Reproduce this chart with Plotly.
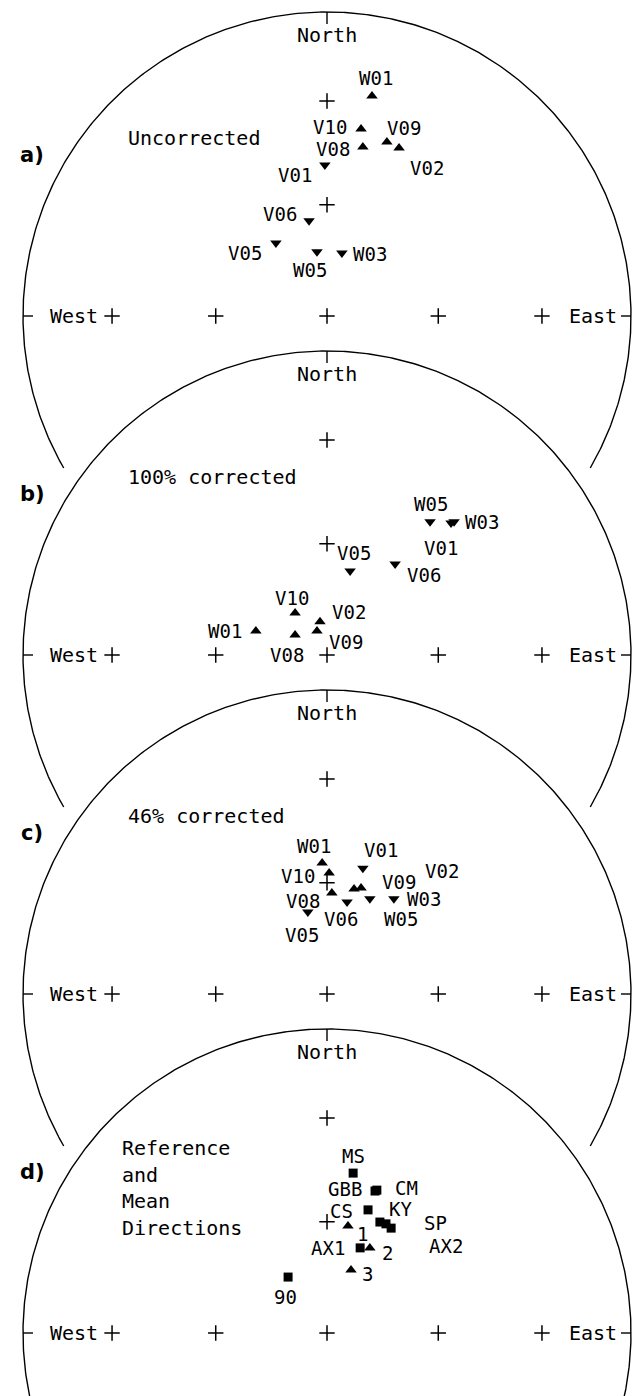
import numpy as np
import plotly.graph_objects as go

# ---------------- data (positions in stereonet units, R = 1; x = east, y = north) -------------
# a) Uncorrected
A_NAMES = ["W01", "V10", "V09", "V02", "V08", "V01", "V06", "V05", "W05", "W03"]
A_EAST = [0.148, 0.112, 0.197, 0.237, 0.118, -0.007, -0.059, -0.168, -0.033, 0.049]
A_NORTH = [0.724, 0.615, 0.572, 0.553, 0.556, 0.497, 0.313, 0.240, 0.211, 0.207]
A_SYMBOL = ["up", "up", "up", "up", "up", "down", "down", "down", "down", "down"]

# b) 100% corrected
B_NAMES = ["W05", "W03", "V01", "V05", "V06", "V10", "V02", "V09", "W01", "V08"]
B_EAST = [0.339, 0.418, 0.408, 0.076, 0.224, -0.105, -0.023, -0.033, -0.234, -0.105]
B_NORTH = [0.438, 0.438, 0.434, 0.276, 0.299, 0.138, 0.109, 0.079, 0.079, 0.066]
B_SYMBOL = ["down", "down", "down", "down", "down", "up", "up", "up", "up", "up"]

# c) 46% corrected
C_NAMES = ["W01", "V10", "V08", "V05", "V06", "V09", "V02", "V01", "W05", "W03"]
C_EAST = [-0.016, 0.007, 0.016, -0.063, 0.066, 0.089, 0.112, 0.118, 0.141, 0.220]
C_NORTH = [0.431, 0.398, 0.332, 0.270, 0.303, 0.345, 0.349, 0.414, 0.313, 0.313]
C_SYMBOL = ["up", "up", "up", "down", "down", "up", "up", "down", "down", "down"]

# d) Reference and mean directions
D_NAMES = ["MS", "GBB", "CM", "CS", "KY", "SP", "AX2", "AX1", "90", "1", "2", "3"]
D_EAST = [0.086, 0.158, 0.164, 0.135, 0.174, 0.194, 0.211, 0.109, -0.128, 0.069, 0.141, 0.079]
D_NORTH = [0.526, 0.467, 0.470, 0.405, 0.365, 0.359, 0.345, 0.280, 0.184, 0.352, 0.280, 0.207]
D_SYMBOL = ["square"] * 9 + ["up"] * 3

PANEL_LETTERS = ["a)", "b)", "c)", "d)"]
PANEL_CAPTIONS = [["Uncorrected"], ["100% corrected"], ["46% corrected"],
                  ["Reference", "and", "Mean", "Directions"]]
GRID_INCLINATIONS = [60, 30]  # grid crosses (equal-area net)

# ---------------- label placement (pixel offsets of label centre from marker) -------------
A_LBL = [(4, -18), (-31, -2), (17, -14), (28, 20), (-30, 2), (-30, 10), (-29, -7), (-31, 10), (-7, 18), (28, 1)]
B_LBL = [(1, -18), (28, 0), (-10, 25), (4, -18), (29, 11), (-3, -15), (29, -10), (29, 11), (-31, 0), (-8, 20)]
C_LBL = [(-8, -17), (-31, 3), (-29, 8), (-6, 23), (-6, 17), (45, -7), (81, -17), (18, -18), (31, 20), (30, 0)]
D_LBL = [(0, -17), (-30, -2), (30, -2), (-27, 1), (21, -13), (50, -1), (55, 18), (-32, 0), (-3, 20), (15, 8), (18, 5), (16, 4)]

PANELS = [
    (A_NAMES, A_EAST, A_NORTH, A_SYMBOL, A_LBL),
    (B_NAMES, B_EAST, B_NORTH, B_SYMBOL, B_LBL),
    (C_NAMES, C_EAST, C_NORTH, C_SYMBOL, C_LBL),
    (D_NAMES, D_EAST, D_NORTH, D_SYMBOL, D_LBL),
]

# ---------------- layout geometry -------------
W, H = 640, 1396
R_PX = 304.0
CX_PX = 327.0
CY0_PX = 316.0
STEP_PX = 339.0
MONO = "DejaVu Sans Mono"
FS = 20
FS_PT = 19
SYM = {"up": "triangle-up", "down": "triangle-down", "square": "square"}
SYM_SIZE = {"up": 10, "down": 10, "square": 9}

fig = go.Figure()
annotations = []
shapes = []

theta = np.radians(np.linspace(-30, 210, 481))
grid_r = [np.sqrt(2) * np.sin(np.radians((90 - i) / 2)) for i in GRID_INCLINATIONS]

for k, (names, east, north, symbols, lbl) in enumerate(PANELS):
    y0 = -k * STEP_PX / R_PX
    # net outline (open at the bottom)
    fig.add_trace(go.Scatter(x=np.cos(theta), y=y0 + np.sin(theta), mode="lines",
                             line=dict(color="black", width=1.4), hoverinfo="skip", showlegend=False))
    # ticks N, W, E
    shapes.append(dict(type="line", x0=0, x1=0, y0=y0 + 1, y1=y0 + 1 - 12 / R_PX,
                       line=dict(color="black", width=1.4)))
    shapes.append(dict(type="line", x0=-1, x1=-1 + 10 / R_PX, y0=y0, y1=y0,
                       line=dict(color="black", width=1.4)))
    shapes.append(dict(type="line", x0=1, x1=1 - 10 / R_PX, y0=y0, y1=y0,
                       line=dict(color="black", width=1.4)))
    # grid crosses
    gx = [0.0] + [-r for r in grid_r] + grid_r + [0.0 for r in grid_r]
    gy = [0.0] + [0.0 for r in grid_r] * 2 + list(grid_r)
    fig.add_trace(go.Scatter(x=gx, y=[y0 + v for v in gy], mode="markers",
                             marker=dict(symbol="cross-thin", size=11,
                                         line=dict(color="black", width=1.5)),
                             hoverinfo="skip", showlegend=False))
    # data markers
    for s in ["up", "down", "square"]:
        idx = [i for i, t in enumerate(symbols) if t == s]
        if not idx:
            continue
        fig.add_trace(go.Scatter(x=[east[i] for i in idx], y=[y0 + north[i] for i in idx],
                                 mode="markers", showlegend=False,
                                 marker=dict(symbol=SYM[s], size=SYM_SIZE[s], color="black",
                                             line=dict(width=0))))
    for i, name in enumerate(names):
        dx, dy = lbl[i]
        annotations.append(dict(x=east[i], y=y0 + north[i], text=name, showarrow=False,
                                xanchor="center", yanchor="middle", xshift=dx, yshift=-dy,
                                borderpad=0,
                                font=dict(family=MONO, size=FS_PT, color="black")))
    # axis labels
    annotations.append(dict(x=0, y=y0 + 281 / R_PX, text="North", showarrow=False,
                            xanchor="center", yanchor="middle",
                            font=dict(family=MONO, size=FS, color="black")))
    annotations.append(dict(x=-1 + 25 / R_PX, y=y0, text="West", showarrow=False,
                            xanchor="left", yanchor="middle",
                            font=dict(family=MONO, size=FS, color="black")))
    annotations.append(dict(x=1 - 12 / R_PX, y=y0, text="East", showarrow=False,
                            xanchor="right", yanchor="middle",
                            font=dict(family=MONO, size=FS, color="black")))
    # panel letter
    annotations.append(dict(x=(32 - CX_PX) / R_PX, y=y0 + 161 / R_PX, text="<b>%s</b>" % PANEL_LETTERS[k],
                            showarrow=False, xanchor="center", yanchor="middle",
                            font=dict(family="DejaVu Sans", size=21, color="black")))
    # caption
    cap = PANEL_CAPTIONS[k]
    if len(cap) == 1:
        annotations.append(dict(x=(126 - CX_PX) / R_PX, y=y0 + 178 / R_PX, text=cap[0],
                                showarrow=False, xanchor="left", yanchor="middle",
                                font=dict(family=MONO, size=FS, color="black")))
    else:
        for j, line in enumerate(cap):
            annotations.append(dict(x=(120 - CX_PX) / R_PX, y=y0 + (185 - 26.7 * j) / R_PX,
                                    text=line, showarrow=False, xanchor="left", yanchor="middle",
                                    font=dict(family=MONO, size=FS, color="black")))

fig.update_layout(
    width=W, height=H, margin=dict(l=0, r=0, t=0, b=0),
    paper_bgcolor="white", plot_bgcolor="white",
    xaxis=dict(range=[-CX_PX / R_PX, (W - CX_PX) / R_PX], visible=False, fixedrange=True),
    yaxis=dict(range=[(CY0_PX - H) / R_PX, CY0_PX / R_PX], visible=False, fixedrange=True),
    shapes=shapes, annotations=annotations, showlegend=False,
)

fig.write_html("out.html", config={"displayModeBar": False},
               post_script="document.body.style.margin='0';document.documentElement.style.overflow='hidden';")
